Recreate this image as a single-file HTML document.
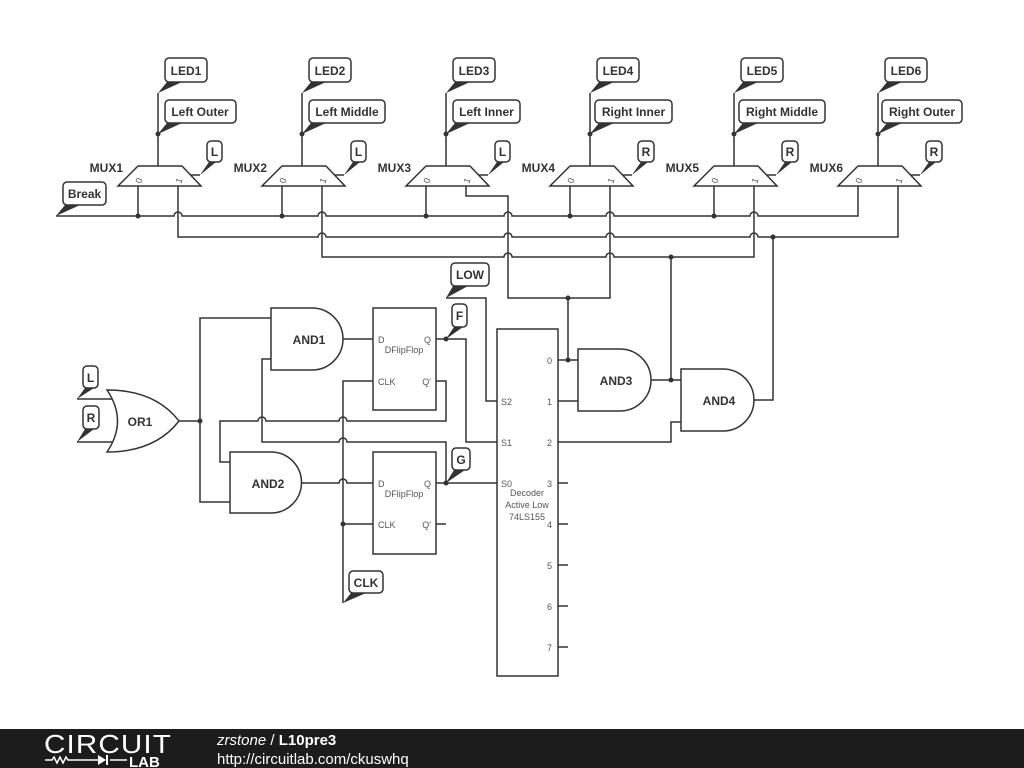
<!DOCTYPE html>
<html><head><meta charset="utf-8"><style>
html,body{margin:0;padding:0;background:#fff;}
svg{display:block;}
text{font-family:"Liberation Sans",sans-serif;fill:#333;}
.b{font-weight:bold;font-size:12px;}
.s{font-size:9px;fill:#555;}
.w{fill:none;stroke:#333;stroke-width:1.5;}
.bx{fill:#fff;stroke:#333;stroke-width:1.5;}
.t{fill:#333;stroke:none;}
.d{fill:#333;}
</style></head><body>
<svg width="1024" height="768" viewBox="0 0 1024 768" xmlns="http://www.w3.org/2000/svg">
<rect width="1024" height="768" fill="#fff"/>
<!-- MUX blocks -->
<g id="muxes">
<!-- MUX1 cx=158 -->
<g>
<path class="bx" d="M138 166 H182 L201 186 H118 Z"/>
<path class="w" d="M158 166 V93 M191 175 H200"/>
<circle class="d" cx="158" cy="134" r="2.5"/>
<polygon class="t" points="167,82 182,82 158,93"/><rect class="bx" x="165" y="58" width="42" height="24" rx="4"/><text class="b" x="186" y="75" text-anchor="middle">LED1</text>
<polygon class="t" points="167,123 182,123 158,134"/><rect class="bx" x="165" y="100" width="71" height="23" rx="4"/><text class="b" x="200" y="116" text-anchor="middle">Left Outer</text>
<polygon class="t" points="209,162 216,162 200,175"/><rect class="bx" x="207" y="141" width="15" height="21" rx="4"/><text class="b" x="214.5" y="156" text-anchor="middle">L</text>
<text class="b" x="123" y="172" text-anchor="end">MUX1</text>
<text class="s" transform="translate(141,184) rotate(-70)">0</text><text class="s" transform="translate(181,184) rotate(-70)">1</text>
</g>
<!-- MUX2 cx=302 -->
<g>
<path class="bx" d="M282 166 H326 L345 186 H262 Z"/>
<path class="w" d="M302 166 V93 M335 175 H344"/>
<circle class="d" cx="302" cy="134" r="2.5"/>
<polygon class="t" points="311,82 326,82 302,93"/><rect class="bx" x="309" y="58" width="42" height="24" rx="4"/><text class="b" x="330" y="75" text-anchor="middle">LED2</text>
<polygon class="t" points="311,123 326,123 302,134"/><rect class="bx" x="309" y="100" width="76" height="23" rx="4"/><text class="b" x="347" y="116" text-anchor="middle">Left Middle</text>
<polygon class="t" points="353,162 360,162 344,175"/><rect class="bx" x="351" y="141" width="15" height="21" rx="4"/><text class="b" x="358.5" y="156" text-anchor="middle">L</text>
<text class="b" x="267" y="172" text-anchor="end">MUX2</text>
<text class="s" transform="translate(285,184) rotate(-70)">0</text><text class="s" transform="translate(325,184) rotate(-70)">1</text>
</g>
<!-- MUX3 cx=446 -->
<g>
<path class="bx" d="M426 166 H470 L489 186 H406 Z"/>
<path class="w" d="M446 166 V93 M479 175 H488"/>
<circle class="d" cx="446" cy="134" r="2.5"/>
<polygon class="t" points="455,82 470,82 446,93"/><rect class="bx" x="453" y="58" width="42" height="24" rx="4"/><text class="b" x="474" y="75" text-anchor="middle">LED3</text>
<polygon class="t" points="455,123 470,123 446,134"/><rect class="bx" x="453" y="100" width="67" height="23" rx="4"/><text class="b" x="486.5" y="116" text-anchor="middle">Left Inner</text>
<polygon class="t" points="497,162 504,162 488,175"/><rect class="bx" x="495" y="141" width="15" height="21" rx="4"/><text class="b" x="502.5" y="156" text-anchor="middle">L</text>
<text class="b" x="411" y="172" text-anchor="end">MUX3</text>
<text class="s" transform="translate(429,184) rotate(-70)">0</text><text class="s" transform="translate(469,184) rotate(-70)">1</text>
</g>
<!-- MUX4 cx=590 -->
<g>
<path class="bx" d="M570 166 H614 L633 186 H550 Z"/>
<path class="w" d="M590 166 V93 M623 175 H632"/>
<circle class="d" cx="590" cy="134" r="2.5"/>
<polygon class="t" points="599,82 614,82 590,93"/><rect class="bx" x="597" y="58" width="42" height="24" rx="4"/><text class="b" x="618" y="75" text-anchor="middle">LED4</text>
<polygon class="t" points="599,123 614,123 590,134"/><rect class="bx" x="595" y="100" width="77" height="23" rx="4"/><text class="b" x="633.5" y="116" text-anchor="middle">Right Inner</text>
<polygon class="t" points="641,162 648,162 632,175"/><rect class="bx" x="638" y="141" width="16" height="21" rx="4"/><text class="b" x="646" y="156" text-anchor="middle">R</text>
<text class="b" x="555" y="172" text-anchor="end">MUX4</text>
<text class="s" transform="translate(573,184) rotate(-70)">0</text><text class="s" transform="translate(613,184) rotate(-70)">1</text>
</g>
<!-- MUX5 cx=734 -->
<g>
<path class="bx" d="M714 166 H758 L777 186 H694 Z"/>
<path class="w" d="M734 166 V93 M767 175 H776"/>
<circle class="d" cx="734" cy="134" r="2.5"/>
<polygon class="t" points="743,82 758,82 734,93"/><rect class="bx" x="741" y="58" width="42" height="24" rx="4"/><text class="b" x="762" y="75" text-anchor="middle">LED5</text>
<polygon class="t" points="743,123 758,123 734,134"/><rect class="bx" x="739" y="100" width="86" height="23" rx="4"/><text class="b" x="782" y="116" text-anchor="middle">Right Middle</text>
<polygon class="t" points="785,162 792,162 776,175"/><rect class="bx" x="782" y="141" width="16" height="21" rx="4"/><text class="b" x="790" y="156" text-anchor="middle">R</text>
<text class="b" x="699" y="172" text-anchor="end">MUX5</text>
<text class="s" transform="translate(717,184) rotate(-70)">0</text><text class="s" transform="translate(757,184) rotate(-70)">1</text>
</g>
<!-- MUX6 cx=878 -->
<g>
<path class="bx" d="M858 166 H902 L921 186 H838 Z"/>
<path class="w" d="M878 166 V93 M911 175 H920"/>
<circle class="d" cx="878" cy="134" r="2.5"/>
<polygon class="t" points="887,82 902,82 878,93"/><rect class="bx" x="885" y="58" width="42" height="24" rx="4"/><text class="b" x="906" y="75" text-anchor="middle">LED6</text>
<polygon class="t" points="887,123 902,123 878,134"/><rect class="bx" x="882" y="100" width="80" height="23" rx="4"/><text class="b" x="922" y="116" text-anchor="middle">Right Outer</text>
<polygon class="t" points="929,162 936,162 920,175"/><rect class="bx" x="926" y="141" width="16" height="21" rx="4"/><text class="b" x="934" y="156" text-anchor="middle">R</text>
<text class="b" x="843" y="172" text-anchor="end">MUX6</text>
<text class="s" transform="translate(861,184) rotate(-70)">0</text><text class="s" transform="translate(901,184) rotate(-70)">1</text>
</g>
</g>
<!-- Break -->
<polygon class="t" points="65,205 80,205 56,216"/><rect class="bx" x="63" y="182" width="43" height="23" rx="4"/><text class="b" x="84.5" y="198" text-anchor="middle">Break</text>
<!-- Buses -->
<path class="w" d="M56 216 H174 a4 4 0 0 1 8 0 H318 a4 4 0 0 1 8 0 H504 a4 4 0 0 1 8 0 H606 a4 4 0 0 1 8 0 H750 a4 4 0 0 1 8 0 H858 V186"/>
<path class="w" d="M138 186 V216 M282 186 V216 M426 186 V216 M570 186 V216 M714 186 V216"/>
<circle class="d" cx="138" cy="216" r="2.5"/><circle class="d" cx="282" cy="216" r="2.5"/><circle class="d" cx="426" cy="216" r="2.5"/><circle class="d" cx="570" cy="216" r="2.5"/><circle class="d" cx="714" cy="216" r="2.5"/>
<path class="w" d="M178 186 V237 H318 a4 4 0 0 1 8 0 H504 a4 4 0 0 1 8 0 H606 a4 4 0 0 1 8 0 H750 a4 4 0 0 1 8 0 H898 V186"/>
<path class="w" d="M322 186 V257 H504 a4 4 0 0 1 8 0 H606 a4 4 0 0 1 8 0 H754 V186"/>
<path class="w" d="M466 186 V196 H508 V298 H610 V186"/>
<circle class="d" cx="773" cy="237" r="2.5"/><circle class="d" cx="671" cy="257" r="2.5"/><circle class="d" cx="568" cy="298" r="2.5"/>
<!-- Decoder -->
<rect class="bx" x="497" y="329" width="61" height="347"/>
<path class="w" d="M558 483 H568 M558 524 H568 M558 565 H568 M558 606 H568 M558 647 H568"/>
<text class="s" x="552" y="364" text-anchor="end">0</text><text class="s" x="552" y="405" text-anchor="end">1</text><text class="s" x="552" y="446" text-anchor="end">2</text><text class="s" x="552" y="487" text-anchor="end">3</text><text class="s" x="552" y="528" text-anchor="end">4</text><text class="s" x="552" y="569" text-anchor="end">5</text><text class="s" x="552" y="610" text-anchor="end">6</text><text class="s" x="552" y="651" text-anchor="end">7</text>
<text class="s" x="501" y="405">S2</text><text class="s" x="501" y="446">S1</text><text class="s" x="501" y="487">S0</text>
<text class="s" x="527" y="496" text-anchor="middle">Decoder</text><text class="s" x="527" y="508" text-anchor="middle">Active Low</text><text class="s" x="527" y="520" text-anchor="middle">74LS155</text>
<!-- AND3 / AND4 -->
<path class="w" d="M568 298 V360 M558 360 H578 M558 401 H578 M558 442 H671 V422 H681 M651 380 H681 M671 380 V257 M754 400 H773 V237"/>
<circle class="d" cx="568" cy="360" r="2.5"/><circle class="d" cx="671" cy="380" r="2.5"/>
<path class="bx" d="M578 349 H620 A31 31 0 0 1 620 411 H578 Z"/><text class="b" x="616" y="385" text-anchor="middle">AND3</text>
<path class="bx" d="M681 369 H723 A31 31 0 0 1 723 431 H681 Z"/><text class="b" x="719" y="405" text-anchor="middle">AND4</text>
<!-- LOW -->
<polygon class="t" points="453,286 468,286 446,298"/><rect class="bx" x="451" y="263" width="38" height="23" rx="4"/><text class="b" x="470" y="279" text-anchor="middle">LOW</text>
<path class="w" d="M446 298 H486 V401 H497"/>
<!-- Left logic -->
<path class="w" d="M343 339 H373 M436 339 H466 V442 H497"/>
<path class="w" d="M436 381 H446 V421 H347 a4 4 0 0 0 -8 0 H266 a4 4 0 0 0 -8 0 H220 V462 H230"/>
<path class="w" d="M271 359 H262 V442 H339 a4 4 0 0 1 8 0 H446 V483"/>
<path class="w" d="M179 421 H200 M271 318 H200 V502 H230"/>
<path class="w" d="M302 483 H339 a4 4 0 0 1 8 0 H373 M436 483 H497 M436 524 H446"/>
<path class="w" d="M343 603 V381 H373 M343 524 H373"/>
<circle class="d" cx="200" cy="421" r="2.5"/><circle class="d" cx="446" cy="339" r="2.5"/><circle class="d" cx="446" cy="483" r="2.5"/><circle class="d" cx="343" cy="524" r="2.5"/>
<path class="bx" d="M271 308 H312 A31 31 0 0 1 312 370 H271 Z"/><text class="b" x="309" y="344" text-anchor="middle">AND1</text>
<path class="bx" d="M230 452 H271 A30.5 30.5 0 0 1 271 513 H230 Z"/><text class="b" x="268" y="488" text-anchor="middle">AND2</text>
<rect class="bx" x="373" y="308" width="63" height="102"/>
<text class="s" x="378" y="343">D</text><text class="s" x="431" y="343" text-anchor="end">Q</text><text class="s" x="404" y="353" text-anchor="middle">DFlipFlop</text><text class="s" x="378" y="385">CLK</text><text class="s" x="431" y="385" text-anchor="end">Q'</text>
<rect class="bx" x="373" y="452" width="63" height="102"/>
<text class="s" x="378" y="487">D</text><text class="s" x="431" y="487" text-anchor="end">Q</text><text class="s" x="404" y="497" text-anchor="middle">DFlipFlop</text><text class="s" x="378" y="528">CLK</text><text class="s" x="431" y="528" text-anchor="end">Q'</text>
<polygon class="t" points="454,327 463,327 446,339"/><rect class="bx" x="452" y="304" width="15" height="23" rx="4"/><text class="b" x="459.5" y="320" text-anchor="middle">F</text>
<polygon class="t" points="454,470 465,470 446,483"/><rect class="bx" x="452" y="448" width="18" height="22" rx="4"/><text class="b" x="461" y="464" text-anchor="middle">G</text>
<polygon class="t" points="351,593 366,593 343,603"/><rect class="bx" x="349" y="571" width="34" height="22" rx="4"/><text class="b" x="366" y="587" text-anchor="middle">CLK</text>
<!-- OR1 -->
<path class="w" d="M77 399 H116 M77 442 H116"/>
<path class="bx" d="M107 390 Q155 390 179 421 Q155 452 107 452 Q128 421 107 390 Z"/><text class="b" x="140" y="426" text-anchor="middle">OR1</text>
<polygon class="t" points="85,388 94,388 77,399"/><rect class="bx" x="83" y="366" width="15" height="22" rx="4"/><text class="b" x="90.5" y="382" text-anchor="middle">L</text>
<polygon class="t" points="85,429 94,429 77,442"/><rect class="bx" x="83" y="406" width="16" height="23" rx="4"/><text class="b" x="91" y="422" text-anchor="middle">R</text>
<!-- Footer -->
<rect x="0" y="729" width="1024" height="39" fill="#1c1c1c"/>
<text x="44" y="753" style="fill:#fff;font-size:26px;letter-spacing:1px;font-weight:normal" textLength="128" lengthAdjust="spacingAndGlyphs">CIRCUIT</text>
<path d="M45 760 H52 l2 -3 l3 6 l3 -6 l3 6 l3 -6 l2 3 H98 M110 760 H127" stroke="#fff" stroke-width="1.5" fill="none"/>
<polygon points="98,755 98,765 106,760" fill="#fff"/><rect x="106" y="755" width="2" height="10" fill="#fff"/>
<text x="129" y="767" style="fill:#fff;font-size:15px;font-weight:bold">LAB</text>
<text x="217" y="745" style="fill:#fff;font-size:15px"><tspan font-style="italic">zrstone</tspan> / <tspan font-weight="bold">L10pre3</tspan></text>
<text x="217" y="764" style="fill:#fff;font-size:15px">http://circuitlab.com/ckuswhq</text>
</svg>
</body></html>
